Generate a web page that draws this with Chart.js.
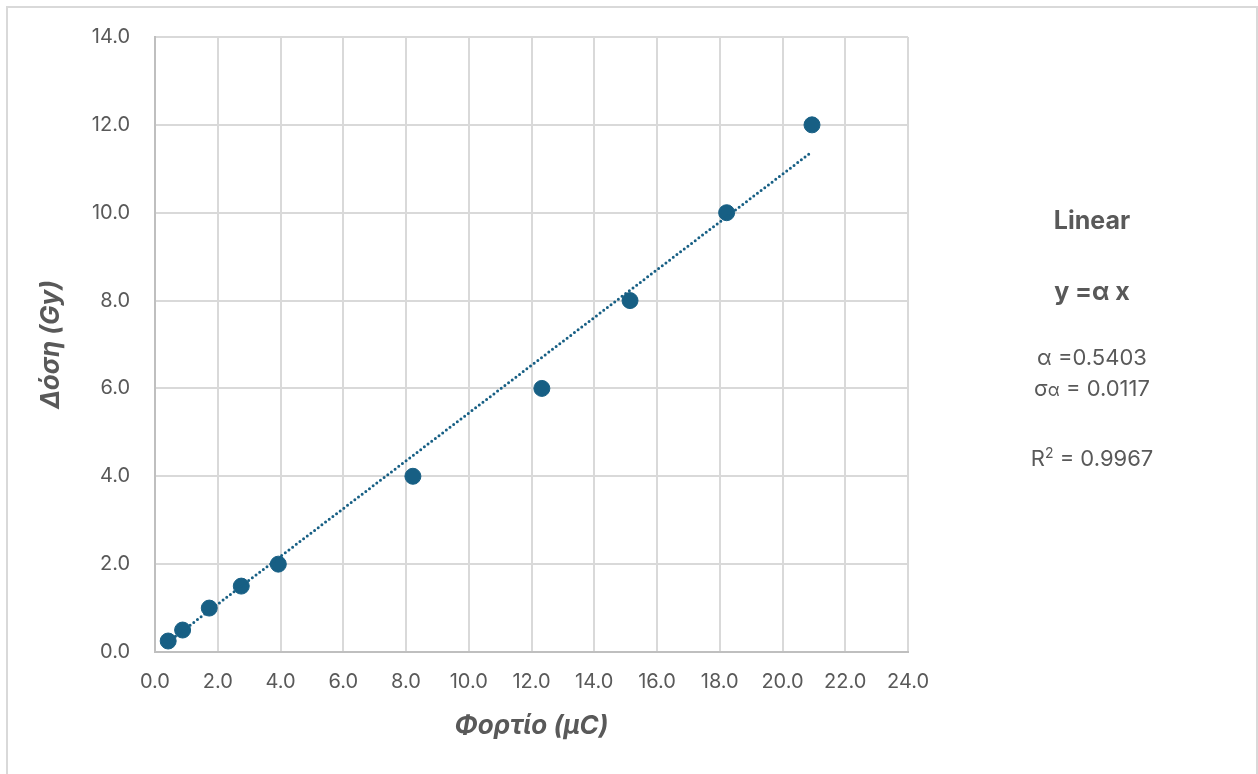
<!DOCTYPE html>
<html lang="el">
<head>
  <meta charset="UTF-8">
  <title>Δόση - Φορτίο</title>
  <script src="https://cdn.jsdelivr.net/npm/chart.js"></script>
  <style>
    body {
      margin: 0;
      background: #ffffff;
      font-family: Inter, "Liberation Sans", sans-serif;
    }
    #wrap {
      position: relative;
      width: 1258px;
      height: 774px;
      overflow: hidden;
    }
    #frame {
      position: absolute;
      left: 6px;
      top: 6px;
      width: 1252px;
      height: 800px;
      border: 2px solid #d9d9d9;
      box-sizing: border-box;
      pointer-events: none;
    }
    .fit {
      position: absolute;
      left: 992px;
      width: 200px;
      text-align: center;
      color: #595959;
      font-size: 22px;
      line-height: 26px;
      white-space: nowrap;
    }
    .fit.b { font-weight: bold; font-size: 25px; }
  </style>
</head>
<body>
  <div id="wrap">
    <canvas id="myChart" width="1258" height="774"></canvas>
    <div class="fit b" style="top:207px">Linear</div>
    <div class="fit b" style="top:278px">y =α x</div>
    <div class="fit" style="top:344px">α =0.5403</div>
    <div class="fit" style="top:375px">σ<span style="font-size:18px">α</span> = 0.0117</div>
    <div class="fit" style="top:440px">R<sup style="font-size:14px">2</sup> = 0.9967</div>
    <div id="frame"></div>
  </div>

  <script>
    // μετρήσεις: φορτίο (μC) και δόση (Gy)
    const charge = [0.42, 0.88, 1.73, 2.75, 3.93, 8.22, 12.33, 15.14, 18.22, 20.94];
    const dose = [0.25, 0.5, 1.0, 1.5, 2.0, 4.0, 6.0, 8.0, 10.0, 12.0];

    // γραμμή τάσης y = α x (άκρα όπως φαίνονται στο γράφημα)
    const trendX = [0.42, 20.87];
    const trendY = [0.23, 11.35];

    // άξονες
    const xTicks = ['0.0', '2.0', '4.0', '6.0', '8.0', '10.0', '12.0', '14.0', '16.0', '18.0', '20.0', '22.0', '24.0'];
    const yTicks = ['0.0', '2.0', '4.0', '6.0', '8.0', '10.0', '12.0', '14.0'];

    const blue = '#175f84';
    const txt = '#595959';
    const tickFont = { family: 'Inter, "Liberation Sans", sans-serif', size: 20 };
    const titleFont = { family: 'Inter, "Liberation Sans", sans-serif', size: 26, weight: 'bold', style: 'italic' };

    const ctx = document.getElementById('myChart').getContext('2d');
    new Chart(ctx, {
      type: 'scatter',
      data: {
        datasets: [
          {
            label: 'trend',
            type: 'line',
            data: trendX.map((x, i) => ({ x: x, y: trendY[i] })),
            borderColor: blue,
            borderWidth: 3,
            borderDash: [0, 4.6],
            borderCapStyle: 'round',
            pointRadius: 0,
            fill: false
          },
          {
            label: 'Δόση',
            data: charge.map((x, i) => ({ x: x, y: dose[i] })),
            backgroundColor: blue,
            borderColor: blue,
            pointRadius: 8,
            pointHoverRadius: 8
          }
        ]
      },
      options: {
        responsive: false,
        animation: false,
        layout: { padding: { left: 0, top: 36, right: 350, bottom: 0 } },
        plugins: {
          legend: { display: false },
          tooltip: { enabled: false }
        },
        scales: {
          x: {
            type: 'linear',
            min: 0,
            max: 24,
            afterFit: s => { s.height = 122; },
            ticks: {
              stepSize: 2,
              padding: 18,
              color: txt,
              font: tickFont,
              callback: (v, i) => xTicks[i]
            },
            grid: { color: '#d9d9d9', lineWidth: 2, drawTicks: false },
            border: { color: '#bfbfbf', width: 2 },
            title: {
              display: true,
              text: 'Φορτίο (μC)',
              color: txt,
              font: titleFont,
              padding: { top: 0, bottom: 32 }
            }
          },
          y: {
            min: 0,
            max: 14,
            afterFit: s => { s.width = 155; },
            ticks: {
              stepSize: 2,
              padding: 25,
              color: txt,
              font: tickFont,
              callback: (v, i) => yTicks[i]
            },
            grid: { color: '#d9d9d9', lineWidth: 2, drawTicks: false },
            border: { color: '#bfbfbf', width: 2 },
            title: {
              display: true,
              text: 'Δόση (Gy)',
              color: txt,
              font: titleFont,
              padding: { top: 36, bottom: 0 }
            }
          }
        }
      }
    });
  </script>
</body>
</html>
